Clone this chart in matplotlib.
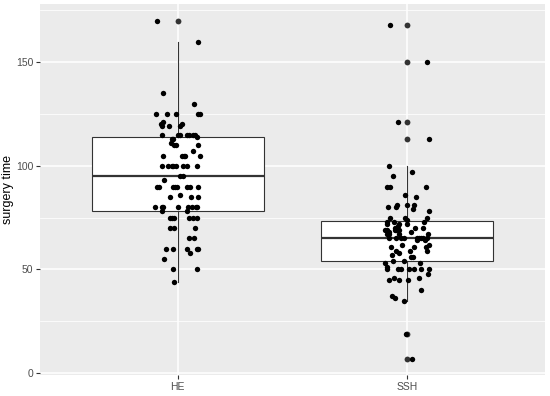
import numpy as np
import matplotlib
matplotlib.use("Agg")
import matplotlib.pyplot as plt
from matplotlib.ticker import MultipleLocator

# ── data ─────────────────────────────────────────────────────────────
groups = ["HE", "SSH"]

he_time = [170, 160, 135, 130,
           125, 125, 125, 125, 125,
           120, 119, 121, 119, 119, 120,
           115, 115, 115, 115, 115, 115, 115, 114,
           113, 113, 111, 110, 110, 110,
           107,
           105, 105, 105, 105, 105,
           100, 100, 100, 100, 100, 100, 100, 100,
           95, 95, 93,
           90, 90, 90, 90, 90, 90, 90, 90,
           86, 85, 85, 85,
           80, 80, 80, 80, 80, 80, 80, 80,
           78, 78,
           75, 75, 75, 75, 75, 75,
           70, 70, 70,
           65, 65,
           60, 60, 60, 60, 60,
           58, 55, 50, 50, 44]
he_jitter = [-0.09, 0.09, -0.065, 0.07,
             -0.096, -0.048, -0.009, 0.087, 0.096,
             -0.074, -0.07, -0.065, -0.039, 0.009, 0.017,
             -0.07, 0.0, 0.009, 0.039, 0.048, 0.065, 0.074, 0.083,
             -0.026, -0.02, -0.03, -0.017, -0.009, 0.09,
             0.065,
             -0.065, 0.017, 0.026, 0.03, 0.096,
             -0.07, -0.044, -0.026, -0.022, -0.009, 0.022, 0.039, 0.083,
             0.009, 0.022, -0.061,
             -0.09, -0.083, -0.022, -0.013, -0.004, 0.039, 0.052, 0.087,
             0.009, -0.035, 0.057, 0.09,
             -0.1, -0.07, -0.065, 0.0, 0.044, 0.061, 0.078, 0.083,
             0.039, -0.07,
             -0.035, -0.026, -0.017, 0.048, 0.065, 0.083,
             -0.035, -0.017, 0.074,
             0.048, 0.07,
             -0.052, -0.022, 0.039, 0.083, 0.087,
             0.052, -0.061, -0.022, 0.083, -0.017]

ssh_time = [168, 150, 121, 113,
            100, 97, 95, 90, 90, 90, 86, 85,
            80, 80, 81, 81, 81, 79, 78,
            75, 73, 75, 74, 75,
            73, 72, 73,
            72, 71, 72,
            70, 69, 70, 70,
            69, 69, 68, 69, 69, 68,
            67, 67, 67, 65, 65, 65, 67,
            65, 65, 65, 64, 65, 65, 64, 65,
            61, 59, 58, 61, 61, 62, 59,
            62, 59, 57,
            56, 56, 54, 54, 53,
            53, 51, 50,
            50, 50, 50, 50, 50, 50, 48,
            46, 46,
            45, 45, 45,
            40, 37, 36, 35,
            19, 7]
ssh_jitter = [-0.074, 0.087, -0.039, 0.096,
              -0.078, 0.022, -0.061, -0.09, -0.074, 0.083, -0.009, 0.039,
              -0.083, -0.048, -0.044, 0.0, 0.03, 0.026, 0.096,
              -0.074, -0.057, -0.009, 0.0, 0.087,
              -0.087, -0.09, 0.074,
              -0.035, -0.039, 0.0,
              -0.052, -0.048, 0.035, 0.07,
              -0.096, -0.087, -0.078, -0.052, -0.035, 0.017,
              -0.087, -0.078, -0.035, -0.026, 0.044, 0.052, 0.09,
              -0.078, -0.048, -0.013, 0.044, 0.061, 0.07, 0.078, 0.087,
              -0.07, -0.048, -0.035, 0.03, 0.083, 0.096, 0.087,
              -0.022, 0.013, -0.065,
              0.026, 0.017, -0.013, -0.061, 0.057,
              -0.096, -0.09, -0.087,
              -0.039, -0.026, 0.009, 0.03, 0.061, 0.096, 0.09,
              -0.057, 0.052,
              -0.078, -0.035, 0.004,
              0.061, -0.065, -0.052, -0.013,
              -0.004, 0.022]

values = [he_time, ssh_time]
jitters = [he_jitter, ssh_jitter]

# ── ggplot-ish look ──────────────────────────────────────────────────
plt.rcParams["font.family"] = ["Liberation Sans", "DejaVu Sans"]

fig = plt.figure(figsize=(5.5, 3.96), dpi=100)
ax = fig.add_axes([0.0727, 0.052, 0.918, 0.938])
ax.set_facecolor("#EBEBEB")
for s in ax.spines.values():
    s.set_visible(False)

pos = np.arange(1, len(groups) + 1)
ax.boxplot(values, positions=pos, widths=0.75, whis=1.5, patch_artist=True,
           showcaps=False,
           boxprops=dict(facecolor="white", edgecolor="#333333", linewidth=0.8),
           whiskerprops=dict(color="#333333", linewidth=0.8),
           medianprops=dict(color="#333333", linewidth=1.6),
           flierprops=dict(marker="o", markerfacecolor="#333333",
                           markeredgecolor="none", markersize=4.2),
           zorder=2)

for p, v, j in zip(pos, values, jitters):
    ax.scatter(p + np.array(j), v, s=15, color="black", linewidths=0, zorder=3)

allv = np.concatenate([np.array(v, float) for v in values])
lo, hi = allv.min(), allv.max()
pad = 0.05 * (hi - lo)
ax.set_ylim(lo - pad, hi + pad)
ax.set_xlim(0.4, len(groups) + 0.6)

ax.set_xticks(pos)
ax.set_xticklabels(groups)
ax.yaxis.set_major_locator(MultipleLocator(50))
ax.yaxis.set_minor_locator(MultipleLocator(25))
ax.grid(which="major", color="white", linewidth=1.1, zorder=0)
ax.grid(which="minor", axis="y", color="white", linewidth=0.55, zorder=0)
ax.set_axisbelow(True)
ax.tick_params(which="major", length=2.75, width=0.8, color="#333333",
               labelsize=7.5, labelcolor="#4D4D4D", pad=2)
ax.tick_params(which="minor", length=0)

ax.set_ylabel("surgery time", fontsize=9, color="black", va="center")
ax.yaxis.set_label_coords(-0.0624, 0.5)

fig.savefig("out.png", dpi=100)
